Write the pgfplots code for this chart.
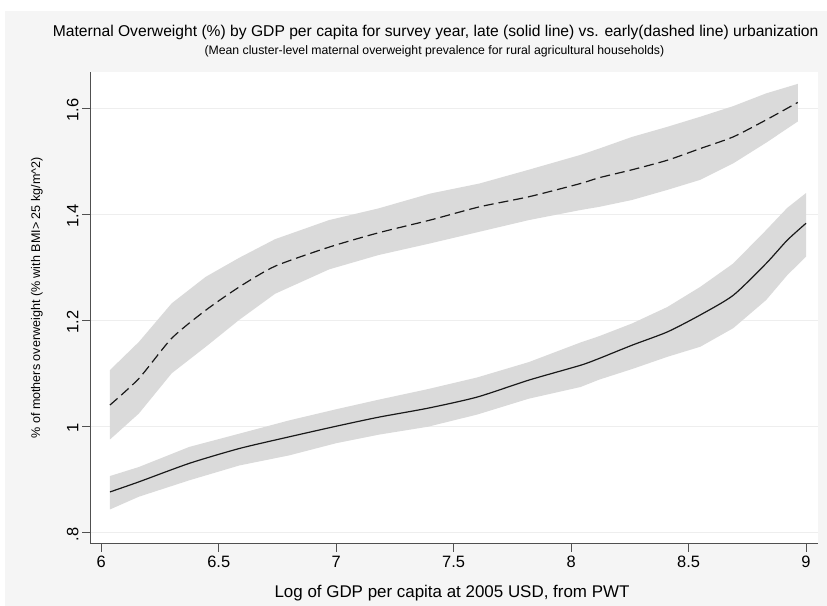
\documentclass[border=0pt]{standalone}
\usepackage{pgfplots}
\pgfplotsset{compat=1.18}
\usepackage{pgfplotstable}
\usepackage{fontspec}
\setmainfont{Liberation Sans}
\definecolor{bggray}{RGB}{245,245,245}
\definecolor{bandc}{RGB}{218,218,218}
\definecolor{gridc}{RGB}{238,238,238}
\definecolor{axc}{RGB}{80,80,80}

% late urbanization: mean
\pgfplotstableread{
x m
6.037 0.876
6.16 0.895
6.375 0.930
6.588 0.958
6.80 0.980
7.00 1.000
7.18 1.017
7.39 1.034
7.60 1.055
7.82 1.087
8.04 1.115
8.12 1.128
8.26 1.153
8.41 1.178
8.55 1.210
8.69 1.247
8.83 1.307
8.92 1.351
9.00 1.383
}\solidmean
% late urbanization: confidence band (upper left to right, lower right to left)
\pgfplotstableread{
x y
6.037 0.906
6.16 0.923
6.375 0.961
6.588 0.986
6.80 1.011
7.00 1.032
7.18 1.050
7.39 1.070
7.60 1.092
7.82 1.121
8.04 1.158
8.12 1.170
8.26 1.194
8.41 1.225
8.55 1.263
8.69 1.307
8.83 1.370
8.92 1.412
9.00 1.440
9.00 1.320
8.92 1.285
8.83 1.238
8.69 1.185
8.55 1.150
8.41 1.131
8.26 1.108
8.12 1.088
8.04 1.074
7.82 1.052
7.60 1.022
7.39 0.999
7.18 0.984
7.00 0.968
6.80 0.945
6.588 0.926
6.375 0.898
6.16 0.867
6.037 0.843
}\solidband

% early urbanization: mean
\pgfplotstableread{
x m
6.037 1.040
6.16 1.090
6.30 1.166
6.445 1.219
6.588 1.263
6.74 1.302
6.97 1.338
7.18 1.365
7.40 1.389
7.61 1.414
7.82 1.433
8.04 1.458
8.12 1.469
8.26 1.484
8.41 1.502
8.55 1.524
8.69 1.546
8.83 1.578
8.965 1.611
}\dashedmean
% early urbanization: confidence band
\pgfplotstableread{
x y
6.037 1.106
6.16 1.159
6.30 1.232
6.445 1.282
6.588 1.318
6.74 1.353
6.97 1.389
7.18 1.411
7.40 1.439
7.61 1.458
7.82 1.484
8.04 1.512
8.12 1.524
8.26 1.546
8.41 1.565
8.55 1.584
8.69 1.604
8.83 1.628
8.965 1.646
8.965 1.575
8.83 1.535
8.69 1.496
8.55 1.465
8.41 1.446
8.26 1.427
8.12 1.414
8.04 1.408
7.82 1.389
7.61 1.367
7.40 1.345
7.18 1.323
6.97 1.296
6.74 1.250
6.588 1.201
6.445 1.150
6.30 1.100
6.16 1.024
6.037 0.975
}\dashedband

\begin{document}
\begin{tikzpicture}
\path (-90bp,-62.5bp) rectangle (737bp,543.5bp);
\fill[bggray] (-85bp,-62.5bp) rectangle (737bp,532.8bp);
\begin{axis}[
  at={(0,0)}, anchor=south west,
  width=728bp, height=471.8bp, scale only axis,
  xmin=5.952, xmax=9.051, ymin=0.7787, ymax=1.669,
  axis x line*=bottom, axis y line*=left,
  axis line style={draw=axc, line width=1bp, -},
  axis background/.style={fill=white},
  ymajorgrids, grid style={draw=gridc, line width=1.2bp},
  tick align=outside, major tick length=8bp,
  tick style={draw=axc, line width=1bp},
  xtick={6,6.5,7,7.5,8,8.5,9},
  xticklabels={6,6.5,7,7.5,8,8.5,9},
  ytick={0.8,1,1.2,1.4,1.6},
  yticklabels={.8,1,1.2,1.4,1.6},
  ticklabel style={font=\fontsize{16.5}{18}\selectfont},
  xticklabel style={anchor=north, yshift=-1bp},
  yticklabel style={rotate=90, anchor=south, xshift=-2bp},
]
\addplot[fill=bandc, draw=none] table[x=x, y=y]{\solidband};
\addplot[fill=bandc, draw=none] table[x=x, y=y]{\dashedband};
\addplot[black!90, line width=1.2bp, smooth, tension=0.4] table[x=x, y=m]{\solidmean};
\addplot[black!90, line width=1.2bp, smooth, tension=0.4, dash pattern=on 10bp off 5bp] table[x=x, y=m]{\dashedmean};
\end{axis}
\node[anchor=base west, inner sep=0pt, font=\fontsize{15.7}{18}\selectfont] at (-37.3bp,506.8bp) {Maternal Overweight (\%) by GDP per capita for survey year, late (solid line) vs. early(dashed line) urbanization};
\node[anchor=base west, inner sep=0pt, font=\fontsize{12.3}{14}\selectfont] at (114.3bp,489.2bp) {(Mean cluster-level maternal overweight prevalence for rural agricultural households)};
\node[anchor=base, font=\fontsize{17}{20}\selectfont] at (362bp,-53.5bp) {Log of GDP per capita at 2005 USD, from PWT};
\node[rotate=90, anchor=center, font=\fontsize{12.6}{15}\selectfont] at (-53bp,245.5bp) {\% of mothers overweight (\% with BMI> 25 kg/m\textasciicircum 2)};
\end{tikzpicture}
\end{document}
